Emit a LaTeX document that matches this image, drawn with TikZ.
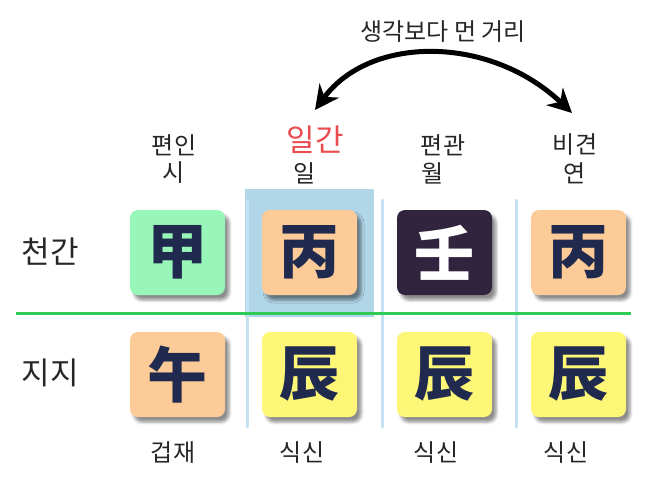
\documentclass[tikz,border=0pt]{standalone}
\usepackage{fontspec}
\setmainfont{Noto Sans CJK KR}
\usetikzlibrary{arrows.meta,shadows.blur}
\definecolor{ink}{HTML}{1F2A4E}
\definecolor{gapgreen}{HTML}{98F6B8}
\definecolor{byeongorange}{HTML}{FDCB98}
\definecolor{jinyellow}{HTML}{FDF677}
\definecolor{imdark}{HTML}{31243F}
\definecolor{hilite}{HTML}{B1D6E8}
\definecolor{sepblue}{HTML}{C3E1F0}
\definecolor{linegreen}{HTML}{2ECC57}
\definecolor{ilred}{HTML}{E94B4F}
\begin{document}
\begin{tikzpicture}[x=1pt,y=-1pt,
    box/.style={rounded corners=8pt, minimum width=95pt, minimum height=85pt, inner sep=0pt,
      font=\fontsize{60}{60}\selectfont\bfseries, text=ink,
      blur shadow={shadow xshift=4pt, shadow yshift=-5pt, shadow blur radius=3pt, shadow opacity=45}},
    lbl/.style={font=\fontsize{24}{24}\selectfont, text=black!85},
    rowlbl/.style={font=\fontsize{31}{31}\selectfont, text=black!85},
    sep/.style={draw=sepblue, line width=3pt, line cap=round}]
  \useasboundingbox (0,0) rectangle (655,479);
  % 일간 강조
  \fill[hilite] (245,189) rectangle (374,317);
  \coordinate (s1a) at (247,200); \coordinate (s1b) at (247,427);
  \coordinate (s2a) at (382,200); \coordinate (s2b) at (382,427);
  \coordinate (s3a) at (516,200); \coordinate (s3b) at (516,427);
  \draw[sep] (s1a) -- (s1b);
  \draw[sep] (s2a) -- (s2b);
  \draw[sep] (s3a) -- (s3b);
  \coordinate (gl) at (16,313); \coordinate (gr) at (631,313);
  \draw[linegreen, line width=3pt] (gl) -- (gr);
  % 행 이름
  \node[rowlbl] (cheongan) at (50,252) {천간};
  \node[rowlbl] (jiji) at (50,373) {지지};
  % 천간
  \node[box, fill=gapgreen] (gan1) at (177.5,252.5) {甲};
  \node[box, fill=byeongorange] (gan2) at (309.5,252.5) {丙};
  \node[box, fill=imdark, text=white] (gan3) at (444.5,252.5) {壬};
  \node[box, fill=byeongorange] (gan4) at (578.5,252.5) {丙};
  % 지지
  \node[box, fill=byeongorange] (ji1) at (177.5,374.5) {午};
  \node[box, fill=jinyellow] (ji2) at (309.5,374.5) {辰};
  \node[box, fill=jinyellow] (ji3) at (444.5,374.5) {辰};
  \node[box, fill=jinyellow] (ji4) at (578.5,374.5) {辰};
  % 위 이름
  \node[lbl] (pyeonin) at (174,145) {편인};
  \node[lbl] (si) at (174,173) {시};
  \node[lbl, font=\fontsize{31}{31}\selectfont, text=ilred] (ilgan) at (315,140) {일간};
  \node[lbl] (il) at (305,173) {일};
  \node[lbl] (pyeongwan) at (443,145) {편관};
  \node[lbl] (wol) at (433,173) {월};
  \node[lbl] (bigyeon) at (575,145) {비견};
  \node[lbl] (yeon) at (575,173) {연};
  % 아래 이름
  \node[lbl] (geopjae) at (173,453) {겁재};
  \node[lbl] (siksin1) at (302,453) {식신};
  \node[lbl] (siksin2) at (436,453) {식신};
  \node[lbl] (siksin3) at (566,453) {식신};
  % 거리 화살표
  \node[lbl] (geori) at (443,32) {생각보다 먼 거리};
  \coordinate (arrL) at (315,110);
  \coordinate (arrR) at (572,113);
  \draw[line width=5pt, {Stealth[length=24pt,width=24pt]}-{Stealth[length=24pt,width=24pt]}]
    (arrL) .. controls (370,35) and (490,35) .. (arrR);
\end{tikzpicture}
\end{document}
